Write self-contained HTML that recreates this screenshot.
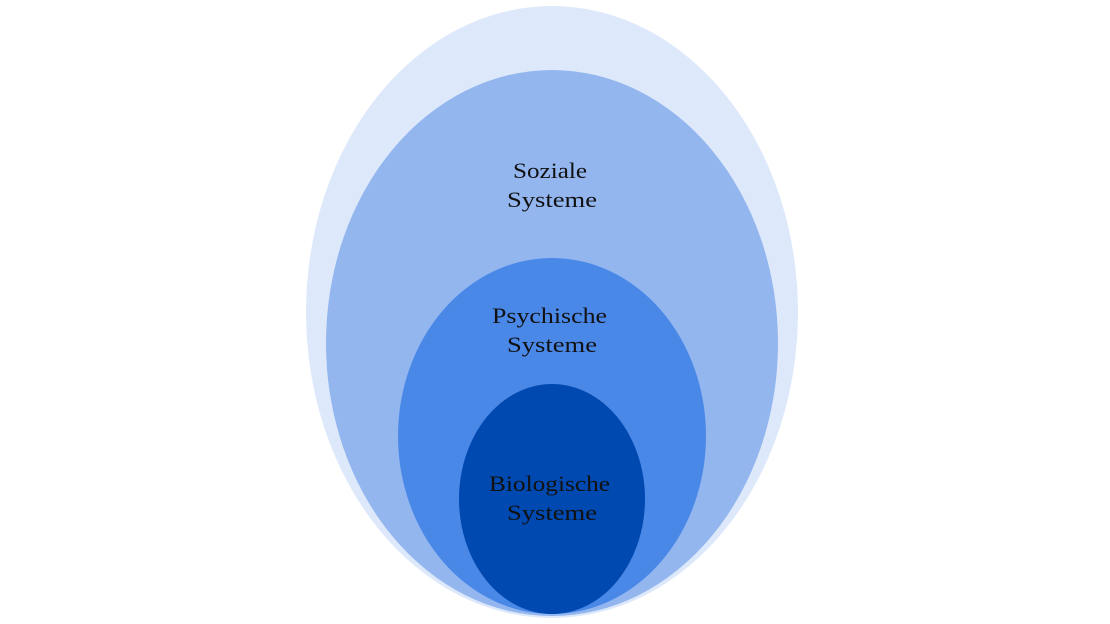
<!DOCTYPE html>
<html><head><meta charset="utf-8"><style>
html,body{margin:0;padding:0;background:#fff;width:1110px;height:624px;overflow:hidden}
text{font-family:"Liberation Serif",serif;font-size:22px;fill:#111}
</style></head><body>
<svg width="1110" height="624" viewBox="0 0 1110 624">
<ellipse cx="552" cy="312" rx="246" ry="306" fill="#dde9fb"/>
<ellipse cx="552" cy="343" rx="226" ry="273" fill="#93b6ef"/>
<ellipse cx="552" cy="436" rx="154" ry="178" fill="#4a88e8"/>
<ellipse cx="552" cy="499" rx="93" ry="115" fill="#0049b0"/>
<text x="513" y="178" textLength="74" lengthAdjust="spacingAndGlyphs">Soziale</text>
<text x="507" y="207" textLength="90" lengthAdjust="spacingAndGlyphs">Systeme</text>
<text x="492" y="323" textLength="115" lengthAdjust="spacingAndGlyphs">Psychische</text>
<text x="507" y="352" textLength="90" lengthAdjust="spacingAndGlyphs">Systeme</text>
<text x="489" y="491" textLength="121" lengthAdjust="spacingAndGlyphs">Biologische</text>
<text x="507" y="520" textLength="90" lengthAdjust="spacingAndGlyphs">Systeme</text>
</svg>
</body></html>
